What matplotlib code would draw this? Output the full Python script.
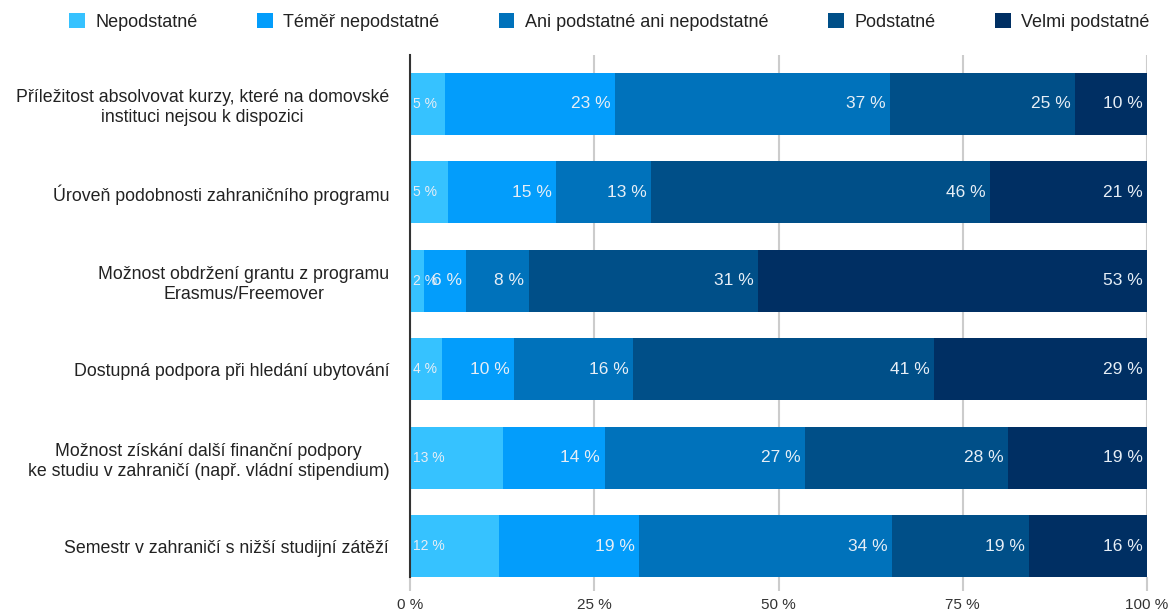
import matplotlib.pyplot as plt
import numpy as np

plt.rcParams['font.family'] = ['Liberation Sans', 'DejaVu Sans']

# Survey items (top to bottom) and share of answers per rating, in %
items = [
    'Příležitost absolvovat kurzy, které na domovské\ninstituci nejsou k dispozici',
    'Úroveň podobnosti zahraničního programu',
    'Možnost obdržení grantu z programu\nErasmus/Freemover',
    'Dostupná podpora při hledání ubytování',
    'Možnost získání další finanční podpory\nke studiu v zahraničí (např. vládní stipendium)',
    'Semestr v zahraničí s nižší studijní zátěží',
]
ratings = ['Nepodstatné', 'Téměř nepodstatné', 'Ani podstatné ani nepodstatné',
           'Podstatné', 'Velmi podstatné']
nepodstatne = [4.7, 5.2, 1.9, 4.3, 12.6, 12.1]
temer_nepodstatne = [23.1, 14.6, 5.7, 9.8, 13.8, 19.0]
ani_ani = [37.3, 12.9, 8.5, 16.2, 27.2, 34.3]
podstatne = [25.1, 46.0, 31.1, 40.8, 27.6, 18.6]
velmi_podstatne = [9.8, 21.3, 52.8, 28.9, 18.8, 16.0]

colors = ['#36C2FF', '#039DFB', '#0072BB', '#004F88', '#002F63']
series = [nepodstatne, temer_nepodstatne, ani_ani, podstatne, velmi_podstatne]

fig = plt.figure(figsize=(11.72, 6.14), dpi=100)
ax = fig.add_axes([410 / 1172, 1 - 577 / 614, 737 / 1172, 522 / 614])

y = np.arange(len(items))
left = np.zeros(len(items))
for i, (name, vals, col) in enumerate(zip(ratings, series, colors)):
    vals = np.array(vals)
    ax.barh(y, vals, left=left, height=0.70, color=col, label=name, zorder=3)
    for yi, l, v in zip(y, left, vals):
        txt = f'{round(v):d} %'
        if i == 0:
            # first segment: small label pinned to the left edge
            ax.text(l + 0.4, yi, txt, ha='left', va='center', fontsize=10,
                    color='#E6EEF6', zorder=4)
        else:
            ax.text(l + v - 0.6, yi, txt, ha='right', va='center', fontsize=12.5,
                    color='#E6EEF6', zorder=4)
    left += vals

ax.set_xlim(0, 100)
ax.set_ylim(5.35, -0.554)
ax.set_xticks([0, 25, 50, 75, 100])
ax.set_xticklabels(['0 %', '25 %', '50 %', '75 %', '100 %'])
ax.set_yticks(y)
ax.set_yticklabels(items)
for lbl in ax.get_yticklabels():
    lbl.set_multialignment('center')
    lbl.set_linespacing(1.25)

ax.grid(axis='x', color='#CCCCCC', linewidth=1.5, zorder=0)
ax.tick_params(axis='x', length=10, width=1.5, color='#CCCCCC', labelsize=11,
               labelcolor='#333333', pad=5)
ax.tick_params(axis='y', length=0, labelsize=12.8, labelcolor='#222222', pad=15)
ax.xaxis.get_major_ticks()[0].tick1line.set_color('#333333')

for side in ['top', 'right', 'bottom']:
    ax.spines[side].set_visible(False)
ax.spines['left'].set_color('#333333')
ax.spines['left'].set_linewidth(1.5)
ax.spines['left'].set_zorder(5)

fig.legend(loc='center left', bbox_to_anchor=(62 / 1172, 1 - 22 / 614), ncol=5,
           frameon=False, fontsize=13, handlelength=0.85, handleheight=0.85,
           handletextpad=0.6, columnspacing=3.3, labelcolor='#222222',
           borderaxespad=0, borderpad=0.4)

fig.savefig('out.png', dpi=100)
